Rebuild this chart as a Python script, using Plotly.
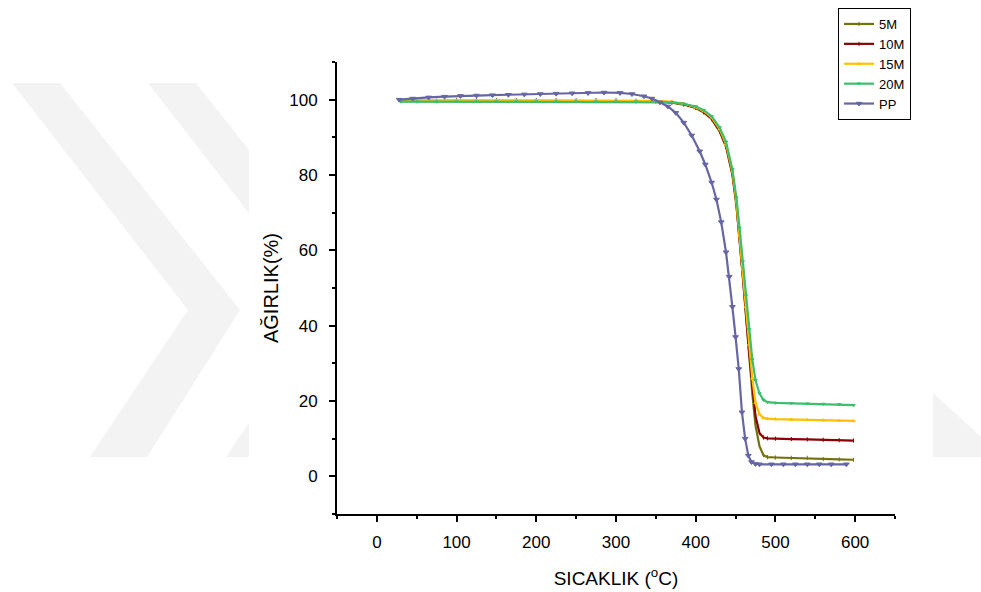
import plotly.graph_objects as go

# ---------------- data ----------------
series_names = ["5M", "10M", "15M", "20M", "PP"]

temp_m = [30, 50, 75, 100, 125, 150, 175, 200, 225, 250, 275, 300, 325, 350, 370, 385,
          400, 410, 420, 430, 438, 446, 451, 455, 459, 463, 467, 471, 475, 480, 485, 490,
          500, 520, 540, 560, 580, 598]

w_5m = [99.6, 99.6, 99.6, 99.7, 99.7, 99.7, 99.7, 99.7, 99.7, 99.7, 99.7, 99.7, 99.6, 99.5, 99.2, 98.7,
        97.8, 96.6, 94.8, 91.5, 87.5, 80.0, 72.0, 63.0, 53.5, 42.5, 32.0, 22.0, 13.5, 8.0, 5.6, 5.1,
        5.0, 4.9, 4.9, 4.6, 4.5, 4.4]
w_10m = [99.7, 99.7, 99.7, 99.8, 99.8, 99.8, 99.8, 99.8, 99.8, 99.8, 99.8, 99.8, 99.7, 99.6, 99.3, 98.8,
         97.9, 96.8, 95.0, 91.8, 87.8, 80.5, 72.5, 63.5, 54.0, 43.5, 33.0, 23.5, 16.0, 11.5, 10.3, 10.1,
         10.0, 9.9, 9.8, 9.7, 9.6, 9.5]
w_15m = [99.8, 99.8, 99.8, 99.8, 99.8, 99.8, 99.8, 99.8, 99.8, 99.8, 99.8, 99.8, 99.8, 99.7, 99.4, 98.9,
         98.0, 97.0, 95.3, 92.2, 88.2, 81.0, 73.0, 64.0, 55.0, 45.0, 35.0, 26.0, 19.5, 16.5, 15.5, 15.3,
         15.2, 15.1, 15.0, 14.9, 14.8, 14.7]
w_20m = [99.5, 99.5, 99.5, 99.5, 99.5, 99.5, 99.5, 99.5, 99.5, 99.5, 99.5, 99.5, 99.5, 99.5, 99.3, 98.9,
         98.2, 97.2, 95.6, 92.6, 88.8, 81.5, 74.0, 66.0, 57.0, 48.0, 39.0, 31.0, 25.5, 22.0, 20.3, 19.7,
         19.5, 19.4, 19.3, 19.2, 19.1, 18.9]

temp_pp = [28, 45, 65, 85, 105, 125, 145, 165, 185, 205, 225, 245, 265, 285, 305, 320, 335, 345,
           355, 365, 375, 385, 395, 405, 412, 420, 426, 432, 438, 442, 446, 450, 454, 458, 462, 466,
           470, 475, 480, 495, 510, 525, 540, 555, 570, 589]
w_pp = [100.0, 100.3, 100.6, 100.8, 101.0, 101.1, 101.2, 101.3, 101.4, 101.5, 101.6, 101.7, 101.8, 101.9,
        101.8, 101.5, 100.9, 100.3, 99.3, 98.2, 96.5, 93.9, 90.5, 86.3, 82.8, 78.0, 73.5, 67.5, 59.5, 53.0,
        45.0, 37.0, 28.5, 17.0, 10.0, 5.5, 3.8, 3.3, 3.2, 3.2, 3.2, 3.2, 3.2, 3.2, 3.2, 3.2]

x_ticks = [0, 100, 200, 300, 400, 500, 600]
y_ticks = [0, 20, 40, 60, 80, 100]

# ---------------- styling ----------------
colors = ["#72720F", "#8B0000", "#FFC000", "#3DBE6E", "#6666A5"]
symbols = ["line-ns", "line-ns", "triangle-up", "triangle-down", "triangle-down"]
FONT = "Arial, 'Liberation Sans', sans-serif"

W, H = 981, 592
L, R, T, B = 337, 895, 62, 514   # plot area in pixels


def pxx(x):
    return (x - L) / (R - L)


def pxy(y):
    return (B - y) / (B - T)


fig = go.Figure()

xs = [temp_m, temp_m, temp_m, temp_m, temp_pp]
ys = [w_5m, w_10m, w_15m, w_20m, w_pp]
for i, name in enumerate(series_names):
    is_pp = name == "PP"
    fig.add_trace(go.Scatter(
        x=xs[i], y=ys[i], name=name, mode="lines+markers",
        line=dict(color=colors[i], width=2.2),
        marker=dict(symbol=symbols[i], size=5 if is_pp else 3, color=colors[i],
                    line=dict(color=colors[i], width=1)),
    ))

# ---- faint background watermark (decoration outside the chart image) ----
wm = "#F3F3F3"


def chevron(dx):
    pts = [(12 + dx, 83), (60 + dx, 83), (240 + dx, 310), (147 + dx, 457), (90 + dx, 457), (188 + dx, 310)]
    return "M " + " L ".join(f"{pxx(a):.4f},{pxy(b):.4f}" for a, b in pts) + " Z"


shapes = [
    dict(type="path", path=chevron(0), xref="paper", yref="paper", fillcolor=wm, line=dict(width=0), layer="below"),
    dict(type="path", path=chevron(136), xref="paper", yref="paper", fillcolor=wm, line=dict(width=0), layer="below"),
    dict(type="path",
         path="M " + " L ".join(f"{pxx(a):.4f},{pxy(b):.4f}" for a, b in [(933, 393), (981, 437), (981, 457), (933, 457)]) + " Z",
         xref="paper", yref="paper", fillcolor=wm, line=dict(width=0), layer="below"),
    dict(type="rect", x0=pxx(249), x1=pxx(933), y0=pxy(0), y1=pxy(592), xref="paper", yref="paper",
         fillcolor="white", line=dict(width=0), layer="below"),
]

fig.update_layout(
    width=W, height=H,
    margin=dict(l=L, r=W - R, t=T, b=H - B, pad=0, autoexpand=False),
    paper_bgcolor="white", plot_bgcolor="rgba(0,0,0,0)",
    font=dict(family=FONT, color="black"),
    shapes=shapes,
    showlegend=True,
    legend=dict(x=pxx(838), y=pxy(8), xanchor="left", yanchor="top",
                bordercolor="black", borderwidth=1, bgcolor="white",
                font=dict(family=FONT, size=13, color="black"),
                tracegroupgap=0, itemwidth=30),
    xaxis=dict(range=[-50, 650], tickvals=x_ticks, showgrid=False, zeroline=False, automargin=False,
               showline=True, linecolor="black", linewidth=2,
               ticks="outside", ticklen=6, tickwidth=2, tickcolor="black",
               tickfont=dict(family=FONT, size=17, color="black"), ticklabelstandoff=6,
               minor=dict(dtick=50, tick0=-50, ticks="outside", ticklen=3, tickwidth=2, tickcolor="black"),
               title=dict(text="SICAKLIK (<sup>o</sup>C)", font=dict(family=FONT, size=19, color="black"), standoff=20)),
    yaxis=dict(range=[-10, 110], tickvals=y_ticks, showgrid=False, zeroline=False, automargin=False,
               showline=True, linecolor="black", linewidth=2,
               ticks="outside", ticklen=6, tickwidth=2, tickcolor="black",
               tickfont=dict(family=FONT, size=17, color="black"), ticklabelstandoff=8,
               minor=dict(dtick=10, tick0=-10, ticks="outside", ticklen=3, tickwidth=2, tickcolor="black"),
               title=dict(text="AĞIRLIK(%)", font=dict(family=FONT, size=20, color="black"), standoff=5)),
)

fig.write_html("out.html")
